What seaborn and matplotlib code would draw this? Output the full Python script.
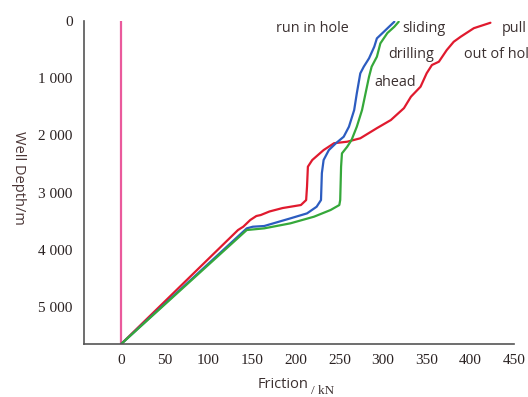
import numpy as np
import pandas as pd
import matplotlib
matplotlib.use('Agg')
import matplotlib.pyplot as plt
import seaborn as sns

# Friction (kN) vs well depth (m)
red_depth = [30, 125, 274, 362, 507, 711, 769, 913, 1148, 1323, 1523, 1731, 1873, 2050,
             2110, 2136, 2256, 2430, 2547, 2897, 3130, 3217, 3270, 3330, 3392, 3409, 3479,
             3596, 3654, 5650]
red_friction = [423, 404, 389, 381, 373, 364, 356, 350, 343, 332, 324, 309, 293, 274,
                259, 244, 232, 219, 214, 213, 212, 206, 185, 170, 160, 155, 148,
                140, 134, 0]

blue_depth = [12, 99, 187, 303, 449, 652, 798, 915, 1265, 1556, 1848, 2023, 2138, 2256,
              2430, 2660, 3130, 3247, 3363, 3450, 3584, 3596, 3625, 5650]
blue_friction = [313, 307, 301, 293, 290, 284, 278, 274, 270, 267, 261, 255, 246, 238,
                 232, 230, 229, 224, 213, 194, 164, 151, 144, 0]

green_depth = [12, 99, 210, 390, 624, 798, 974, 1265, 1556, 1848, 2080, 2198, 2314, 2547,
               3130, 3217, 3304, 3421, 3537, 3625, 3654, 5650]
green_friction = [318, 313, 305, 297, 293, 287, 284, 280, 276, 270, 264, 259, 253, 252,
                  251, 250, 240, 221, 194, 164, 144, 0]

zero_depth = [0, 5650]
zero_friction = [0, 0]

x_ticks = [0, 50, 100, 150, 200, 250, 300, 350, 400, 450]
y_ticks = [0, 1000, 2000, 3000, 4000, 5000]
y_tick_labels = ['0', '1 000', '2 000', '3 000', '4 000', '5 000']

sns.set_style('white')
plt.rcParams['font.family'] = ['Liberation Serif', 'DejaVu Serif']

fig = plt.figure(figsize=(5.28, 3.97), dpi=100)
ax = fig.add_axes([0.159, 0.1335, 0.8145, 0.8135])

series = [
    (zero_friction, zero_depth, '#ea5a9c'),
    (red_friction, red_depth, '#e01a2e'),
    (blue_friction, blue_depth, '#2c5cc0'),
    (green_friction, green_depth, '#35a83a'),
]
for fr, dep, col in series:
    df = pd.DataFrame({'friction': fr, 'depth': dep})
    sns.lineplot(data=df, x='friction', y='depth', sort=False, estimator=None,
                 color=col, linewidth=1.6, ax=ax)

ax.set_xlim(-42.4, 450)
ax.set_ylim(5647, 0)
ax.set_xticks(x_ticks)
ax.set_yticks(y_ticks)
ax.set_yticklabels(y_tick_labels)
ax.set_xlabel('')
ax.set_ylabel('')

for s in ['top', 'right']:
    ax.spines[s].set_visible(False)
for s in ['left', 'bottom']:
    ax.spines[s].set_color('#555555')
    ax.spines[s].set_linewidth(1.2)
ax.tick_params(direction='in', length=4, width=1, color='#555555',
               labelsize=11, labelcolor='#2a2222', pad=8)
ax.tick_params(axis='x', pad=7)

label_kw = dict(family='Open Sans', fontsize=10.4, color='#3b3030', transform=fig.transFigure)
def fx(px):
    return px / 528
def fy(py):
    return 1 - py / 397

fig.text(fx(276), fy(28), 'run in hole', va='center', **label_kw)
fig.text(fx(402), fy(28), 'sliding', va='center', **label_kw)
fig.text(fx(388), fy(55), 'drilling', va='center', **label_kw)
fig.text(fx(374), fy(82), 'ahead', va='center', **label_kw)
fig.text(fx(502), fy(28), 'pull', va='center', **label_kw)
# the source figure cuts this label off at its right edge
fig.text(fx(464), fy(55), 'out of hole', va='center', **label_kw)

fig.text(fx(258), fy(385), 'Friction', va='center', family='Open Sans',
         fontsize=10.5, color='#3b3030')
fig.text(fx(311), fy(391), '/ kN', va='center', family='Liberation Serif',
         fontsize=9.5, color='#3b3030')
fig.text(fx(18), fy(178), 'Well Depth/m', va='center', ha='center', rotation=-90,
         family='Open Sans', fontsize=10.5, color='#4a3535')

fig.savefig('out.png', dpi=100)
